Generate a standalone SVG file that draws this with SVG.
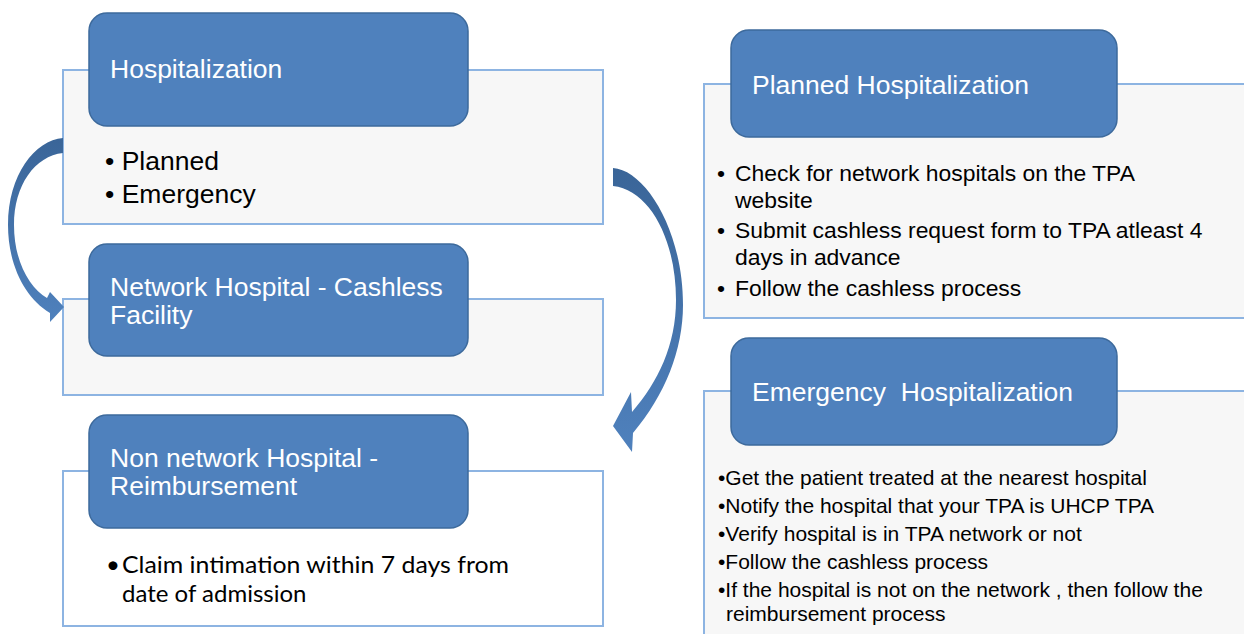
<svg xmlns="http://www.w3.org/2000/svg" width="1244" height="634" viewBox="0 0 1244 634">
<defs>
<style>
.outer{fill:#f7f7f7;stroke:#8db4e2;stroke-width:2}
.outerw{fill:#ffffff;stroke:#8db4e2;stroke-width:2}
.hdr{fill:#4f81bd;stroke:#3d6a9c;stroke-width:1.5}
.ht{font-family:"Liberation Sans",Arial,sans-serif;font-size:26.5px;fill:#ffffff}
.bl{font-family:"Liberation Sans",Arial,sans-serif;font-size:26.5px;fill:#000000}
.br{font-family:"Liberation Sans",Arial,sans-serif;font-size:22.9px;fill:#000000}
.be{font-family:"Liberation Sans",Arial,sans-serif;font-size:21px;fill:#000000}
.bc{font-family:Lato,"Open Sans",sans-serif;font-size:24px;fill:#000000}
.arr{stroke:none}
</style>
<linearGradient id="gL" gradientUnits="userSpaceOnUse" x1="0" y1="137" x2="0" y2="325">
<stop offset="0" stop-color="#3a6598"/><stop offset="1" stop-color="#4f81bd"/>
</linearGradient>
<linearGradient id="gR" gradientUnits="userSpaceOnUse" x1="0" y1="168" x2="0" y2="453">
<stop offset="0" stop-color="#3a6598"/><stop offset="1" stop-color="#4f81bd"/>
</linearGradient>
</defs>
<rect width="1244" height="634" fill="#ffffff"/>

<g id="hospitalization">
<rect class="outer" x="63" y="70" width="540" height="154"/>
<rect class="hdr" x="89" y="13" width="379" height="113" rx="18"/>
<text class="ht" x="110" y="78">Hospitalization</text>
<text class="bl" x="105" y="170">• Planned</text>
<text class="bl" x="105" y="203">• Emergency</text>
</g>

<g id="network-hospital">
<rect class="outer" x="63" y="299" width="540" height="96"/>
<rect class="hdr" x="89" y="244" width="379" height="112" rx="18"/>
<text class="ht" x="110" y="296">Network Hospital - Cashless</text>
<text class="ht" x="110" y="324">Facility</text>
</g>

<g id="non-network-hospital">
<rect class="outerw" x="63" y="471" width="540" height="155"/>
<rect class="hdr" x="89" y="415" width="379" height="113" rx="18"/>
<text class="ht" x="110" y="467">Non network Hospital -</text>
<text class="ht" x="110" y="495">Reimbursement</text>
<text class="bc" x="106" y="573">•</text>
<text class="bc" x="122" y="573" textLength="387" lengthAdjust="spacingAndGlyphs">Claim intimation within 7 days from</text>
<text class="bc" x="122" y="602">date of admission</text>
</g>

<g id="planned-hospitalization">
<rect class="outer" x="704" y="84" width="550" height="234"/>
<rect class="hdr" x="731" y="30" width="386" height="107" rx="18"/>
<text class="ht" x="752" y="94">Planned Hospitalization</text>
<text class="br" x="717" y="181">•</text>
<text class="br" x="735" y="181">Check for network hospitals on the TPA</text>
<text class="br" x="735" y="208">website</text>
<text class="br" x="717" y="238">•</text>
<text class="br" x="735" y="238">Submit cashless request form to TPA atleast 4</text>
<text class="br" x="735" y="265">days in advance</text>
<text class="br" x="717" y="296">•</text>
<text class="br" x="735" y="296">Follow the cashless process</text>
</g>

<g id="emergency-hospitalization">
<rect class="outer" x="704" y="391" width="550" height="260"/>
<rect class="hdr" x="731" y="338" width="386" height="107" rx="18"/>
<text class="ht" x="752" y="401" xml:space="preserve">Emergency  Hospitalization</text>
<text class="be" x="718" y="485">•Get the patient treated at the nearest hospital</text>
<text class="be" x="718" y="513">•Notify the hospital that your TPA is UHCP TPA</text>
<text class="be" x="718" y="541">•Verify hospital is in TPA network or not</text>
<text class="be" x="718" y="569">•Follow the cashless process</text>
<text class="be" x="718" y="597">•If the hospital is not on the network , then follow the</text>
<text class="be" x="726" y="621">reimbursement process</text>
</g>

<g id="connectors">
<path class="arr" fill="url(#gL)" d="M63,138 C35,140 8,175 8,225 C8,265 25,298 50,313 L50,322 L64,307 L50,292 L47,298 C30,288 14,262 14,225 C14,185 35,156 63,153 Z"/>
<path class="arr" fill="url(#gR)" d="M613,168 C645,170 683,230 683,305 C683,350 665,395 633,433 L632,452 L613,426 L631,392 L632,412 C658,382 676,345 676,300 C676,240 650,190 613,186 Z"/>
</g>
</svg>
